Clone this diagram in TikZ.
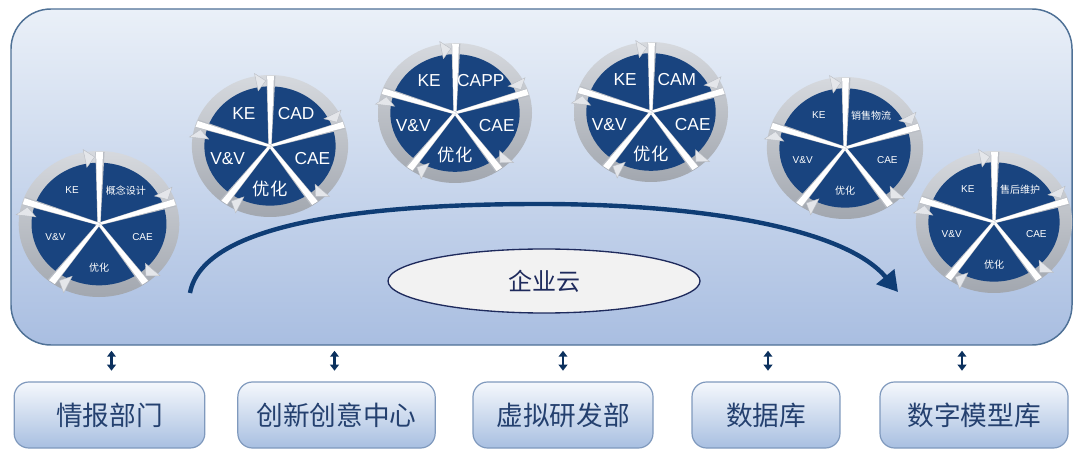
\documentclass[tikz,border=0pt]{standalone}
\usepackage{fontspec}
\setmainfont{Liberation Sans}
\newfontfamily\cjk{Noto Sans CJK SC}
\usepackage{tikz}
\usetikzlibrary{positioning, calc, shapes.geometric, arrows.meta}
\definecolor{navy}{HTML}{0F3D75}
\definecolor{wheelblue}{HTML}{19447F}
\definecolor{ringtop}{HTML}{D6D9DE}
\definecolor{ringbot}{HTML}{A2A7AF}
\definecolor{ringtip}{HTML}{E4E6EA}
\definecolor{spokeshade}{HTML}{B9BDC4}
\definecolor{paneltop}{HTML}{EAF0F8}
\definecolor{panelbot}{HTML}{A9BEE1}
\definecolor{panelline}{HTML}{4F7196}
\definecolor{boxtop}{HTML}{F5F8FC}
\definecolor{boxbot}{HTML}{A8BFE1}
\definecolor{boxline}{HTML}{7F99BD}
\definecolor{boxtext}{HTML}{24406F}
\definecolor{cloudtext}{HTML}{1E2A5C}
\tikzstyle{CloudArrow} = [
%thick curved arrow over the cloud
navy, line width=3.3pt,
-{Triangle[width=17pt,length=15pt]}
]
\tikzstyle{Link} = [navy!80!black, line width=2pt, {Triangle[width=6.5pt,length=4.5pt]}-{Triangle[width=6.5pt,length=4.5pt]}]

% spoke wheel: name, x, y, radius, font, label of the top right part
\newcommand{\spokewheel}[6]{
	\begin{scope}[shift={(#2,#3)}, xscale=1.1]
		\shade[top color=ringtop, bottom color=ringbot] (0,0) circle (#4);
		\fill[wheelblue] (0,0) circle ({0.84*#4});
		\foreach \a in {90,18,-54,-126,162}{
			% spoke with a grey edge
			\fill[spokeshade] (\a-90:1.4) -- (\a-4:{0.99*#4}) -- (\a+2.6:{0.99*#4}) -- (\a+90:1.4) -- cycle;
			\fill[white] (\a-90:1.1) -- (\a-2.9:{0.99*#4}) -- (\a+2.1:{0.99*#4}) -- (\a+90:1.1) -- cycle;
			\fill[ringtip, draw=spokeshade, line width=0.3pt] (\a+3.4:{0.92*#4}) -- (\a+11:{1.04*#4}) -- (\a+11:{0.79*#4}) -- cycle;
		}
		\node[wheeltext, font=#5] (#1-ke) at (126:{0.57*#4}) {KE};
		\node[wheeltext, font=#5] (#1-top) at (54:{0.57*#4}) {#6};
		\node[wheeltext, font=#5] (#1-cae) at (-18:{0.57*#4}) {CAE};
		\node[wheeltext, font=#5] (#1-opt) at (-90:{0.6*#4}) {\cjk 优化};
		\node[wheeltext, font=#5] (#1-vv) at (198:{0.57*#4}) {V\&V};
	\end{scope}
}

\begin{document}
\begin{tikzpicture}[x=0.75pt, y=0.75pt,
			wheeltext/.style = {text=white, inner sep=0pt},
			deptbox/.style = {rectangle, rounded corners=11pt, draw=boxline, line width=0.9pt, top color=boxtop, bottom color=boxbot, minimum height=49.5pt, text=boxtext, font=\cjk\fontsize{20pt}{24pt}\selectfont},
			cloudnode/.style = {ellipse, draw=cloudtext, line width=1pt, fill=black!5, minimum width=234pt, minimum height=48pt, text=cloudtext, font=\cjk\fontsize{18pt}{22pt}\selectfont},
		]
		\useasboundingbox (0,0) rectangle (1077,450);

		\draw[panelline, line width=1.1pt, top color=paneltop, bottom color=panelbot, rounded corners=30pt] (11,105) rectangle (1072,441);

		\coordinate (cs) at (190,157);
		\coordinate (ce) at (898,158);
		\draw[CloudArrow] (cs) .. controls (203,228) and (370,246) .. (540,246) .. controls (700,246) and (845,222) .. (ce);
		\node[cloudnode] (cloud) at (544,169) {企业云};

		\spokewheel{w1}{99}{226}{73}{\fontsize{7.5pt}{9pt}\selectfont}{\cjk 概念设计}
		\spokewheel{w2}{270}{304}{71}{\fontsize{13pt}{15pt}\selectfont}{CAD}
		\spokewheel{w3}{455}{337}{70}{\fontsize{13pt}{15pt}\selectfont}{CAPP}
		\spokewheel{w4}{651}{338}{70}{\fontsize{13pt}{15pt}\selectfont}{CAM}
		\spokewheel{w5}{845}{302}{71}{\fontsize{7.5pt}{9pt}\selectfont}{\cjk 销售物流}
		\spokewheel{w6}{994}{228}{71}{\fontsize{7.5pt}{9pt}\selectfont}{\cjk 售后维护}

		\node[deptbox, minimum width=143pt] (b1) at (109.5,35) {情报部门};
		\node[deptbox, minimum width=148pt] (b2) at (336.5,35) {创新创意中心};
		\node[deptbox, minimum width=135pt] (b3) at (563,35) {虚拟研发部};
		\node[deptbox, minimum width=111pt] (b4) at (766,35) {数据库};
		\node[deptbox, minimum width=141pt] (b5) at (974,35) {数字模型库};

		\foreach \b/\dx in {b1/2, b2/-2, b3/0, b4/2, b5/-12}
			\draw[Link] ([xshift=\dx*0.75pt, yshift=8pt]\b.north) -- ++(0,20);
	\end{tikzpicture}
\end{document}
